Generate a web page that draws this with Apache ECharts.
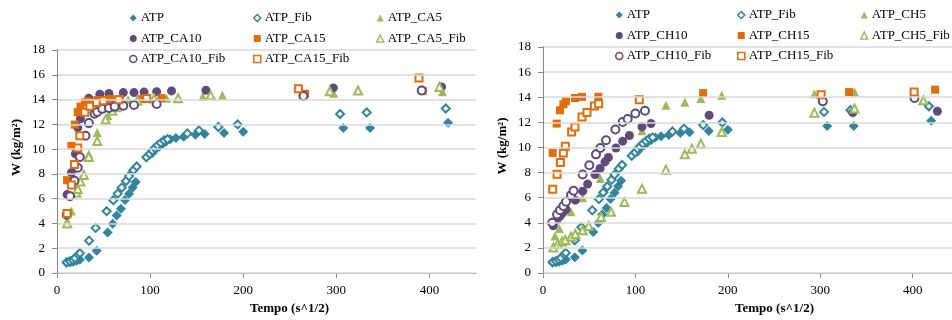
<!DOCTYPE html>
<html>
<head>
<meta charset="utf-8">
<script src="https://cdn.jsdelivr.net/npm/echarts@6/dist/echarts.min.js"></script>
<style>html,body{margin:0;padding:0;background:#fff}#c{width:952px;height:320px}</style>
</head>
<body>
<div id="c"></div>
<script>
// ---- data (x: Tempo s^1/2, y: W kg/m2) ----
const xTickValues = [0, 100, 200, 300, 400];
const yMin = 0, yMax = 18, yStep = 2;

const atp = [[10.4,0.82],[14,0.85],[17.5,0.9],[21,0.98],[24.6,1.07],[34.4,1.25],[42.6,1.8],[54.4,3.27],[59.8,3.98],[64.1,4.65],[68.7,5.18],[73,5.9],[77.4,6.4],[81.3,6.9],[84.5,7.34],[102.5,9.68],[106,10.0],[109.7,10.2],[113,10.4],[117,10.6],[121.6,10.8],[127.7,10.9],[136,11.0],[148.6,11.15],[158.6,11.22],[179.4,11.3],[200,11.4],[307.5,11.7],[336.2,11.7],[420,12.12]];
const atpFib = [[10.4,0.87],[14,0.95],[17,1.05],[19.3,1.19],[22.9,1.48],[24.6,1.6],[34.4,2.61],[41.5,3.64],[53.3,4.99],[60.5,5.88],[65.2,6.41],[69.5,6.89],[74.1,7.42],[77.4,7.82],[82,8.3],[85.6,8.6],[96,9.34],[99.6,9.6],[102.5,9.87],[105,10.08],[108,10.3],[111.5,10.5],[115,10.7],[118.7,10.8],[140,11.27],[152.5,11.5],[173.3,11.78],[194,11.99],[304,12.83],[332.6,12.96],[417.5,13.28]];

const ca5 = [[11,4.2],[15.5,5.0],[34.2,9.6],[43.2,11.35],[54.7,12.7],[76.3,13.98],[117.6,14.1],[156.5,14.25],[177.6,14.34],[297,14.5],[414,14.63]];
const ca5Fib = [[10.8,4.0],[21,6.5],[22.3,6.78],[25.2,7.39],[28.8,7.92],[34.2,9.37],[43.2,10.66],[52.2,12.4],[59.4,13.1],[64,13.38],[68.3,13.6],[86.3,13.9],[104.3,14.09],[130,14.1],[165,14.34],[293,14.68],[323.3,14.73],[410.7,15.02]];
const ca10 = [[10.8,6.33],[15.5,8.1],[19.8,9.63],[22.3,11.74],[25.2,12.45],[34.2,14.1],[46,14.43],[55.8,14.49],[71.2,14.56],[82.7,14.56],[93.5,14.6],[107,14.64],[123,14.7],[160,14.75],[296.8,14.94],[391.7,14.76],[413,15.02]];
const ca10Fib = [[10.5,4.7],[14,6.2],[18.7,7.44],[22.3,8.5],[24.5,9.37],[30.6,11.08],[34.2,12.1],[40.3,12.85],[43.2,13.0],[48.6,13.25],[55.8,13.32],[61.9,13.43],[71.2,13.5],[82.7,13.56],[107,13.64],[264.6,14.28],[391.7,14.73]];
const ca15 = [[10.8,7.49],[15.5,10.26],[19.1,11.98],[22.3,12.98],[25.2,13.43],[29.9,13.77],[33.1,13.85],[43.2,13.96],[50.4,13.96],[57.6,14.04],[67.6,14.04],[89.2,14.04],[112.2,14.12],[266.4,14.47],[392.8,14.68]];
const ca15Fib = [[10.8,4.8],[15.5,7.1],[18.7,8.76],[22.3,10.08],[24.5,11.08],[29.9,12.98],[35.3,13.46],[42.4,13.77],[49.6,13.9],[66.5,13.98],[96.4,14.09],[259.2,14.87],[388.8,15.74]];

const ch5 = [[13,2.94],[17.7,3.55],[30.3,4.87],[42.9,5.99],[62,7.53],[107.1,11.32],[133,13.36],[153.5,13.6],[170.8,13.9],[193.4,14.15],[293.6,14.28],[337,14.41]];
const ch5Fib = [[11.2,2.04],[15.9,2.3],[20.6,2.5],[24.2,2.63],[30.3,2.9],[35,3.1],[42.9,3.41],[49.4,3.75],[62.8,4.47],[73.6,4.87],[88,5.66],[107.1,6.72],[133,8.23],[153.5,9.45],[161.1,9.9],[170.8,10.3],[193.4,11.23],[293.6,12.77],[337,13.1],[411.6,13.75]];
const ch10 = [[11.2,3.76],[14.8,4.21],[18.4,4.53],[20.6,4.74],[22.4,4.93],[24.9,5.06],[35,5.8],[42.9,6.52],[48.3,7.08],[56.3,7.84],[61.7,8.32],[67.1,8.85],[70.7,9.2],[79,9.96],[86.2,10.5],[93.5,10.95],[107.1,11.64],[116.9,11.9],[179.7,12.56],[335.2,12.77],[426.7,12.88]];
const ch10Fib = [[10,4.0],[15.2,4.66],[18.4,5.0],[22,5.33],[24.9,5.67],[30.3,6.2],[33.1,6.55],[42.9,7.84],[50.1,8.58],[57.3,9.45],[62,9.96],[68.2,10.57],[78.3,11.43],[86.2,12.03],[91.6,12.27],[99.9,12.7],[110.3,12.92],[302.7,13.67],[401.9,13.94]];
const ch15 = [[10.5,9.56],[14.8,11.9],[18.4,12.96],[22,13.44],[24.9,13.68],[34.6,13.94],[42.2,14.03],[59.9,14.03],[173.2,14.33],[331.2,14.41],[424.2,14.6]];
const ch15Fib = [[10.5,6.68],[15.2,7.87],[18.8,8.8],[22,9.56],[24.2,10.1],[31,11.24],[34.6,11.63],[42.2,12.43],[47.6,12.78],[55.6,13.31],[60.2,13.49],[104.2,13.8],[300.9,14.2],[401.5,14.41]];

// ---- styles ----
const FONT = '"Liberation Serif", "Times New Roman", serif';
const C_TEAL = '#31859C', C_GREEN = '#9BBB59', C_PURPLE = '#604A7B', C_ORANGE = '#E46C0A';

function filled(name, data, symbol, size, color, gi) {
  return { type: 'scatter', name, data, symbol, symbolSize: size, xAxisIndex: gi, yAxisIndex: gi,
    itemStyle: { color: color, opacity: 1 }, emphasis: { disabled: true } };
}
function hollow(name, data, symbol, size, color, gi) {
  return { type: 'scatter', name, data, symbol, symbolSize: size, xAxisIndex: gi, yAxisIndex: gi,
    itemStyle: { color: '#ffffff', borderColor: color, borderWidth: 2, opacity: 1 }, emphasis: { disabled: true } };
}

function xAxisFor(gi, max, namePad) {
  return {
    type: 'value', gridIndex: gi, min: 0, max: max, interval: 100,
    name: 'Tempo (s^1/2)', nameLocation: 'middle', nameGap: 29,
    nameTextStyle: { fontFamily: FONT, fontSize: 13, fontWeight: 'bold', color: '#000',
      padding: [0, 0, 0, namePad] },
    axisLine: { show: true, lineStyle: { color: '#868686', width: 1 } },
    axisTick: { show: true, length: 5, customValues: xTickValues, lineStyle: { color: '#868686' } },
    axisLabel: { fontFamily: FONT, fontSize: 13, color: '#000', margin: 11, customValues: xTickValues,
      formatter: v => (xTickValues.indexOf(v) >= 0 ? String(v) : '') },
    splitLine: { show: false }
  };
}
function yAxisFor(gi) {
  return {
    type: 'value', gridIndex: gi, min: yMin, max: yMax, interval: yStep, z: 5,
    name: 'W (kg/m²)', nameLocation: 'middle', nameGap: 34,
    nameTextStyle: { fontFamily: FONT, fontSize: 13, fontWeight: 'bold', color: '#000', padding: [0, 0, 0, 28] },
    axisLine: { show: true, lineStyle: { color: '#868686', width: 1 } },
    axisTick: { show: true, length: 5, lineStyle: { color: '#868686' } },
    axisLabel: { fontFamily: FONT, fontSize: 13, color: '#000', margin: 12 },
    splitLine: { show: true, lineStyle: { color: '#D9D9D9', width: 1.5 } }
  };
}
function legendCol(left, top, names) {
  return { left, top, padding: 0, orient: 'vertical', itemGap: 6.5, itemWidth: 7, itemHeight: 7,
    itemStyle: { borderWidth: 1.5 },
    textStyle: { fontFamily: FONT, fontSize: 13, color: '#000', lineHeight: 14, padding: [0, 0, 0, -1] },
    data: names, selectedMode: false };
}

const series = [
  filled('ATP', atp, 'diamond', 10, C_TEAL, 0),
  hollow('ATP_Fib', atpFib, 'diamond', 8, C_TEAL, 0),
  filled('ATP_CA5', ca5, 'triangle', 9, C_GREEN, 0),
  filled('ATP_CA10', ca10, 'circle', 9, C_PURPLE, 0),
  filled('ATP_CA15', ca15, 'rect', 8, C_ORANGE, 0),
  hollow('ATP_CA5_Fib', ca5Fib, 'triangle', 8, C_GREEN, 0),
  hollow('ATP_CA10_Fib', ca10Fib, 'circle', 8, C_PURPLE, 0),
  hollow('ATP_CA15_Fib', ca15Fib, 'rect', 7, C_ORANGE, 0),

  filled('ATP', atp, 'diamond', 10, C_TEAL, 1),
  hollow('ATP_Fib', atpFib, 'diamond', 8, C_TEAL, 1),
  filled('ATP_CH5', ch5, 'triangle', 9, C_GREEN, 1),
  filled('ATP_CH10', ch10, 'circle', 9, C_PURPLE, 1),
  filled('ATP_CH15', ch15, 'rect', 8, C_ORANGE, 1),
  hollow('ATP_CH5_Fib', ch5Fib, 'triangle', 8, C_GREEN, 1),
  hollow('ATP_CH10_Fib', ch10Fib, 'circle', 8, C_PURPLE, 1),
  hollow('ATP_CH15_Fib', ch15Fib, 'rect', 7, C_ORANGE, 1)
];

const chart = echarts.init(document.getElementById('c'), null, { renderer: 'canvas' });
chart.setOption({
  animation: false,
  backgroundColor: '#ffffff',
  grid: [
    { left: 57, top: 50, width: 419, height: 227 },
    { left: 543, top: 47, width: 409, height: 226 }
  ],
  xAxis: [xAxisFor(0, 450, 46), xAxisFor(1, 442.5, 54)],
  yAxis: [yAxisFor(0), yAxisFor(1)],
  legend: [
    legendCol(129, 11, ['ATP', 'ATP_CA10', 'ATP_CA10_Fib']),
    legendCol(253, 11, ['ATP_Fib', 'ATP_CA15', 'ATP_CA15_Fib']),
    legendCol(376, 11, ['ATP_CA5', 'ATP_CA5_Fib']),
    legendCol(615, 8, ['ATP', 'ATP_CH10', 'ATP_CH10_Fib']),
    legendCol(737, 8, ['ATP_Fib', 'ATP_CH15', 'ATP_CH15_Fib']),
    legendCol(860, 8, ['ATP_CH5', 'ATP_CH5_Fib'])
  ],
  series
});
</script>
</body>
</html>
